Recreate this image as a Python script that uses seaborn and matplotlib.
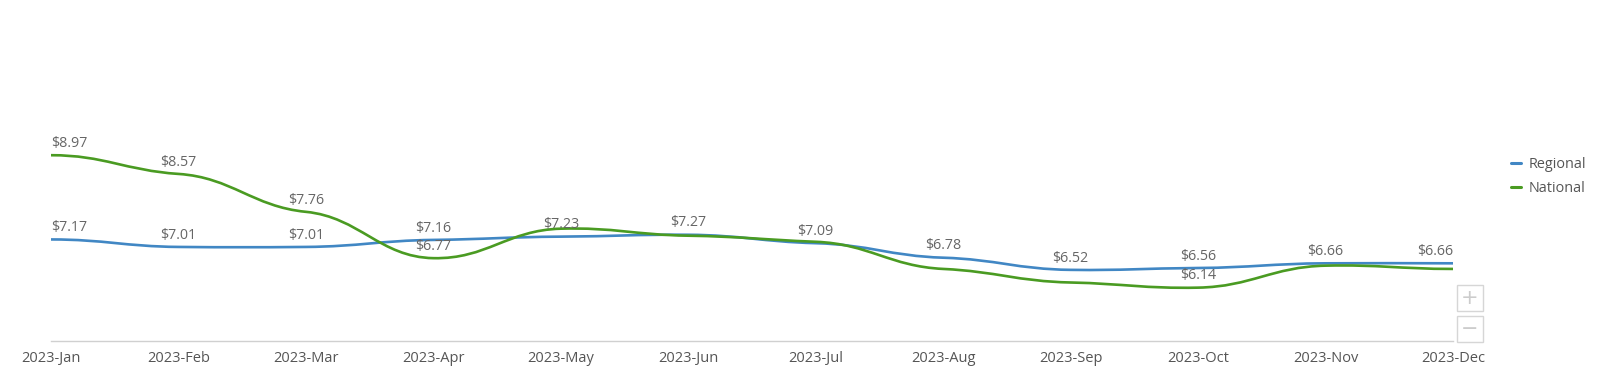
import matplotlib
matplotlib.use("Agg")
import matplotlib.pyplot as plt
from matplotlib.path import Path
from matplotlib.patches import PathPatch, Rectangle
from matplotlib.lines import Line2D
import pandas as pd
import seaborn as sns

# Data
months = ["2023-Jan", "2023-Feb", "2023-Mar", "2023-Apr", "2023-May", "2023-Jun",
          "2023-Jul", "2023-Aug", "2023-Sep", "2023-Oct", "2023-Nov", "2023-Dec"]
regional = [7.17, 7.01, 7.01, 7.16, 7.23, 7.27, 7.09, 6.78, 6.52, 6.56, 6.66, 6.66]
national = [8.97, 8.57, 7.76, 6.77, 7.40, 7.25, 7.12, 6.54, 6.25, 6.14, 6.61, 6.54]
# months where the National label is visible (others hidden by overlap)
national_labeled = ["2023-Jan", "2023-Feb", "2023-Mar", "2023-Apr", "2023-Oct"]

blue = "#4187c4"
green = "#4a9b22"
text_col = "#666666"

sns.set_theme(style="white")
plt.rcParams['font.family'] = ['Open Sans', 'DejaVu Sans']

df = pd.DataFrame({
    "idx": list(range(len(months))) * 2,
    "price": regional + national,
    "series": ["Regional"] * len(months) + ["National"] * len(months),
})


def smooth_path(xs, ys, k=0.3, reach=0.42):
    # cubic bezier through the points, tangents damped to k * centred slope,
    # flat at both ends
    n = len(xs)
    slopes = []
    for i in range(n):
        if i == 0 or i == n - 1:
            slopes.append(0.0)
        else:
            slopes.append(k * (ys[i + 1] - ys[i - 1]) / (xs[i + 1] - xs[i - 1]))
    verts = [(xs[0], ys[0])]
    codes = [Path.MOVETO]
    for i in range(1, n):
        h = (xs[i] - xs[i - 1]) * reach
        c1 = (xs[i - 1] + h, ys[i - 1] + slopes[i - 1] * h)
        c2 = (xs[i] - h, ys[i] - slopes[i] * h)
        verts += [c1, c2, (xs[i], ys[i])]
        codes += [Path.CURVE4] * 3
    return Path(verts, codes)


fig = plt.figure(figsize=(16, 3.8), dpi=100)
ax = fig.add_axes([51 / 1600, 39 / 380, 1402 / 1600, 234 / 380])

sns.lineplot(data=df, x="idx", y="price", hue="series",
             palette={"Regional": blue, "National": green},
             linewidth=0, legend=False, ax=ax)

xs = list(range(len(months)))
for vals, col in [(regional, blue), (national, green)]:
    ax.add_patch(PathPatch(smooth_path(xs, vals), facecolor="none",
                           edgecolor=col, lw=1.9, capstyle="round", zorder=3))


def add_label(i, v):
    ha = "center"
    if i == 0:
        ha = "left"
    elif i == len(months) - 1:
        ha = "right"
    ax.annotate(f"${v:.2f}", (i, v), xytext=(0, 8.5), textcoords="offset points",
                ha=ha, va="center", fontsize=10.3, color=text_col, zorder=4)


for i, v in enumerate(regional):
    add_label(i, v)
for i, v in enumerate(national):
    if months[i] in national_labeled:
        add_label(i, v)

ax.set_xlim(0, len(months) - 1)
ax.set_ylim(5, 10)
ax.set_xticks(xs)
ax.set_xticklabels(months)
ax.set_yticks([])
ax.set_xlabel("")
ax.set_ylabel("")
ax.tick_params(axis="x", length=0, pad=7.5, labelsize=10.5, labelcolor="#555555")
for s in ["top", "right", "left"]:
    ax.spines[s].set_visible(False)
ax.spines["bottom"].set_color("#d0d0d0")
ax.spines["bottom"].set_linewidth(1)

handles = [Line2D([0], [0], color=blue, lw=2.2), Line2D([0], [0], color=green, lw=2.2)]
fig.legend(handles, ["Regional", "National"], loc="upper left",
           bbox_to_anchor=(1511 / 1600, 1 - 157 / 380), frameon=False,
           fontsize=10.4, labelcolor="#555555", handlelength=0.7,
           handletextpad=0.55, labelspacing=0.65, borderpad=0, borderaxespad=0)

# zoom buttons
for top, sign in [(285, "+"), (316, "\u2212")]:
    fig.add_artist(Rectangle((1457 / 1600, 1 - (top + 26) / 380), 26 / 1600, 26 / 380,
                             transform=fig.transFigure, facecolor="white",
                             edgecolor="#d6d6d6", lw=1))
    fig.text(1470 / 1600, 1 - (top + 13) / 380, sign, ha="center", va="center",
             fontsize=15, color="#cccccc", family="DejaVu Sans")

fig.savefig("out.png", dpi=100)
